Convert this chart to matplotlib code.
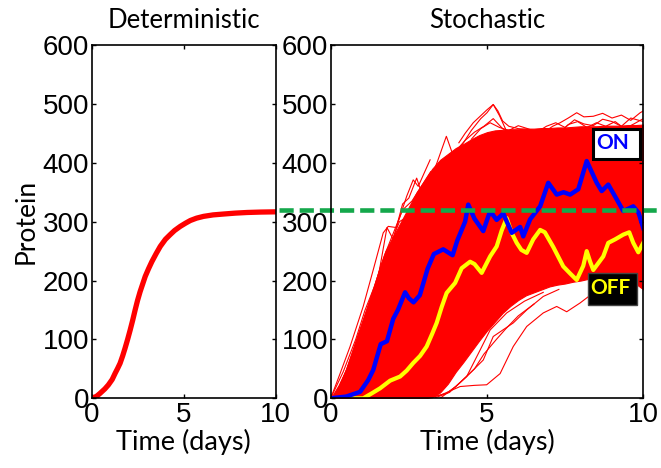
import numpy as np
import matplotlib
matplotlib.use('Agg')
import matplotlib.pyplot as plt
from matplotlib.patches import Rectangle


# deterministic solution (days, protein)
det_t = [0, 0.25, 0.44, 0.7, 0.89, 1.1, 1.26, 1.4, 1.53, 1.67, 1.8, 1.94, 2.08,
         2.22, 2.35, 2.48, 2.62, 2.76, 2.9, 3.08, 3.26, 3.5, 3.72, 4.0, 4.26,
         4.5, 4.81, 5.1, 5.36, 5.7, 6.08, 6.6, 7.18, 7.8, 8.45, 9.2, 10]
det_p = [0, 3.5, 8.5, 16, 22.7, 32, 42.5, 51, 59.5, 72, 85, 100, 116, 133, 150,
         166, 181, 194, 207, 220, 232, 246, 258, 270, 278, 285, 292, 297.5,
         302, 306, 309, 311.5, 313, 314.5, 315.6, 316.3, 316.7]

# bulk of the stochastic ensemble: lower / upper bounds
ens_t = np.arange(0, 10.01, 0.25)
ens_hi = [0, 22, 50, 90, 130, 170, 210, 250, 275, 300, 325, 350, 370, 390, 405,
          415, 425, 432, 440, 447, 452, 455, 456, 457, 457, 458, 458, 459, 459,
          460, 460, 461, 462, 462, 462, 463, 463, 463, 464, 464, 465]
ens_lo = [0, 0, 0, 0, 0, 0, 0, 0, 0, 0, 0, 0, 0, 2, 10, 25, 45, 62, 80, 98, 115,
          130, 145, 157, 167, 175, 180, 185, 190, 193, 195, 198, 200, 203, 205,
          205, 205, 203, 200, 195, 185]

# individual runs at the edge of the ensemble
runs = [
    # upper fringe
    ([1.5, 1.8, 2.0, 2.3, 2.5, 2.75, 2.9, 3.1, 3.4, 3.7, 3.9, 4.2, 4.5, 4.8,
      5.0, 5.2, 5.4, 5.7, 6.0, 6.5],
     [200, 290, 270, 330, 340, 374, 350, 360, 400, 445, 415, 430, 455, 475,
      485, 499, 480, 445, 440, 445]),
    ([4.1, 4.3, 4.56, 4.8, 5.0, 5.2, 5.35, 5.5, 5.7, 6.0, 6.27, 6.5, 6.8, 7.1,
      7.34, 7.6, 7.87, 8.1, 8.4, 8.7, 9.0, 9.3, 9.6, 9.9, 10],
     [434, 450, 468, 480, 490, 499, 488, 471, 462, 458, 457, 452, 451, 462,
      468, 476, 485, 478, 479, 484, 476, 481, 472, 485, 488]),
    ([4.0, 4.3, 4.6, 4.9, 5.2, 5.5, 5.8, 6.1, 6.4, 6.7, 7.0, 7.3, 7.6, 7.9,
      8.2, 8.5, 8.8, 9.1, 9.4, 9.7, 10],
     [420, 438, 452, 462, 475, 458, 448, 455, 446, 452, 458, 450, 465, 470,
      460, 468, 462, 470, 458, 466, 475]),
    ([4.5, 4.8, 5.1, 5.4, 5.7, 6.0, 6.3, 6.6, 6.9, 7.2, 7.5, 7.8, 8.1, 8.4,
      8.7, 9.0, 9.3, 9.6, 10],
     [440, 458, 468, 460, 455, 463, 458, 452, 462, 468, 460, 473, 466, 463,
      474, 470, 462, 476, 470]),
    # leading edge
    ([0, 0.3, 0.62, 1.04, 1.36, 1.68, 1.84, 2.1, 2.43, 2.64, 2.8, 3.18],
     [0, 42, 88, 156, 218, 281, 292, 290, 343, 371, 360, 405]),
    ([0, 0.4, 0.8, 1.1, 1.4, 1.7, 2.0, 2.3, 2.6, 2.9, 3.2],
     [0, 45, 100, 150, 190, 240, 280, 320, 335, 360, 385]),
    ([0.2, 0.5, 0.9, 1.2, 1.5, 1.8, 2.1, 2.4, 2.7, 3.0],
     [10, 48, 110, 140, 200, 230, 270, 300, 330, 350]),
    ([0.3, 0.7, 1.0, 1.3, 1.6, 1.9, 2.2, 2.5],
     [20, 75, 125, 170, 225, 260, 300, 310]),
    # late starters
    ([3.0, 3.5, 4.14, 4.6, 4.99, 5.42, 5.84, 6.27, 6.8, 7.23, 7.55, 7.98, 8.4,
      8.8, 9.2, 9.6, 10],
     [0, 5, 20, 22, 23, 42, 88, 122, 145, 156, 147, 162, 179, 185, 195, 205, 210]),
    ([3.5, 4.0, 4.35, 4.88, 5.2, 5.84, 6.27, 6.8, 7.3],
     [0, 20, 37, 65, 105, 128, 150, 173, 185]),
    ([2.86, 3.3, 3.71, 4.0, 4.35, 4.78, 5.1, 5.63, 6.2, 6.8],
     [0, 3, 8.5, 20, 37, 82, 116, 145, 165, 180]),
    ([3.3, 3.8, 4.2, 4.6, 4.9, 5.3, 5.6, 6.0, 6.5],
     [0, 10, 30, 50, 75, 100, 118, 140, 160]),
]

# highlighted cells
on_t = [0, 0.5, 0.94, 1.2, 1.36, 1.6, 1.8, 2.0, 2.15, 2.38, 2.5, 2.65, 2.85,
        3.1, 3.3, 3.6, 3.9, 4.05, 4.3, 4.4, 4.6, 4.88, 5.1, 5.31, 5.52, 5.79,
        6.06, 6.16, 6.38, 6.7, 6.96, 7.23, 7.45, 7.66, 7.92, 8.19, 8.51, 8.67,
        8.88, 9.15, 9.36, 9.68, 9.85, 10]
on_p = [0, 3, 11, 31, 48, 92, 97, 135, 150, 180, 170, 163, 175, 220, 245, 253,
        243, 268, 300, 329, 305, 284, 318, 303, 314, 281, 291, 275, 304, 326,
        366, 346, 350, 346, 355, 403, 366, 352, 363, 338, 318, 326, 315, 289]
off_t = [0, 1.04, 1.3, 1.58, 1.9, 2.22, 2.43, 2.64, 2.86, 3.07, 3.25, 3.39,
         3.55, 3.71, 3.98, 4.19, 4.46, 4.6, 4.83, 5.1, 5.31, 5.47, 5.63, 5.79,
         5.95, 6.1, 6.27, 6.48, 6.7, 6.85, 7.12, 7.44, 7.66, 7.87, 8.08, 8.19,
         8.3, 8.4, 8.72, 8.88, 9.1, 9.36, 9.55, 9.68, 9.84, 10]
off_p = [0, 0, 8, 17, 30, 37, 47, 60, 72, 88, 110, 128, 155, 179, 196, 221,
         232, 228, 213, 241, 258, 285, 306, 281, 264, 252, 247, 270, 286, 282,
         257, 224, 212, 201, 225, 250, 232, 218, 241, 264, 270, 278, 282, 264,
         248, 264]

steady_state = 319

RED = '#ff0000'
label_font = ['Lato', 'DejaVu Sans']
tick_font = ['Liberation Sans', 'DejaVu Sans']

fig = plt.figure(figsize=(6.61, 4.68), dpi=100)
ax1 = fig.add_axes([0.1392, 0.1489, 0.2776, 0.7549])
ax2 = fig.add_axes([0.5003, 0.1489, 0.4729, 0.7549])

for ax in (ax1, ax2):
    ax.set_xlim(0, 10)
    ax.set_ylim(0, 600)
    ax.set_xticks([0, 5, 10])
    ax.set_yticks(range(0, 601, 100))
    ax.tick_params(direction='in', top=True, right=True, length=3, width=1,
                   labelsize=20)
    ax.tick_params(axis='x', pad=3)
    ax.tick_params(axis='y', pad=2)
    for lbl in ax.get_xticklabels() + ax.get_yticklabels():
        lbl.set_family(tick_font)
    for sp in ax.spines.values():
        sp.set_linewidth(1.2)
    ax.set_xlabel('Time (days)', family=label_font, fontsize=19.5, labelpad=0)

ax1.plot(det_t, det_p, color=RED, lw=3.8, solid_capstyle='round')
ax1.set_title('Deterministic', family=label_font, fontsize=18.5, pad=12)
ax1.set_ylabel('Protein', family=label_font, fontsize=19, labelpad=3)

ax2.fill_between(ens_t, ens_lo, ens_hi, color=RED, lw=0.8, edgecolor=RED)
for rt, rp in runs:
    ax2.plot(rt, rp, color=RED, lw=0.8)
ax2.plot(off_t, off_p, color='#ffff00', lw=3)
ax2.plot(on_t, on_p, color='#0000ff', lw=3.2)
ax2.plot([-1.64, 10.43], [steady_state, steady_state], color='#14a84b',
         lw=3.3, ls=(0, (3.1, 1.3)), clip_on=False)
ax2.set_title('Stochastic', family=label_font, fontsize=18.5, pad=12)

# state labels
ax2.add_patch(Rectangle((8.38, 407), 1.51, 51, fc='white', ec='black', lw=2.2,
                        zorder=5))
ax2.text(9.03, 434, 'ON', color='#0000ff', fontsize=15, fontweight='bold',
         family=label_font, ha='center', va='center', zorder=6)
ax2.add_patch(Rectangle((8.23, 159), 1.56, 54, fc='black', ec='#444444',
                        lw=1, zorder=5))
ax2.text(8.96, 187, 'OFF', color='#ffff00', fontsize=15, fontweight='bold',
         family=label_font, ha='center', va='center', zorder=6)

fig.savefig('out.png', dpi=100)
